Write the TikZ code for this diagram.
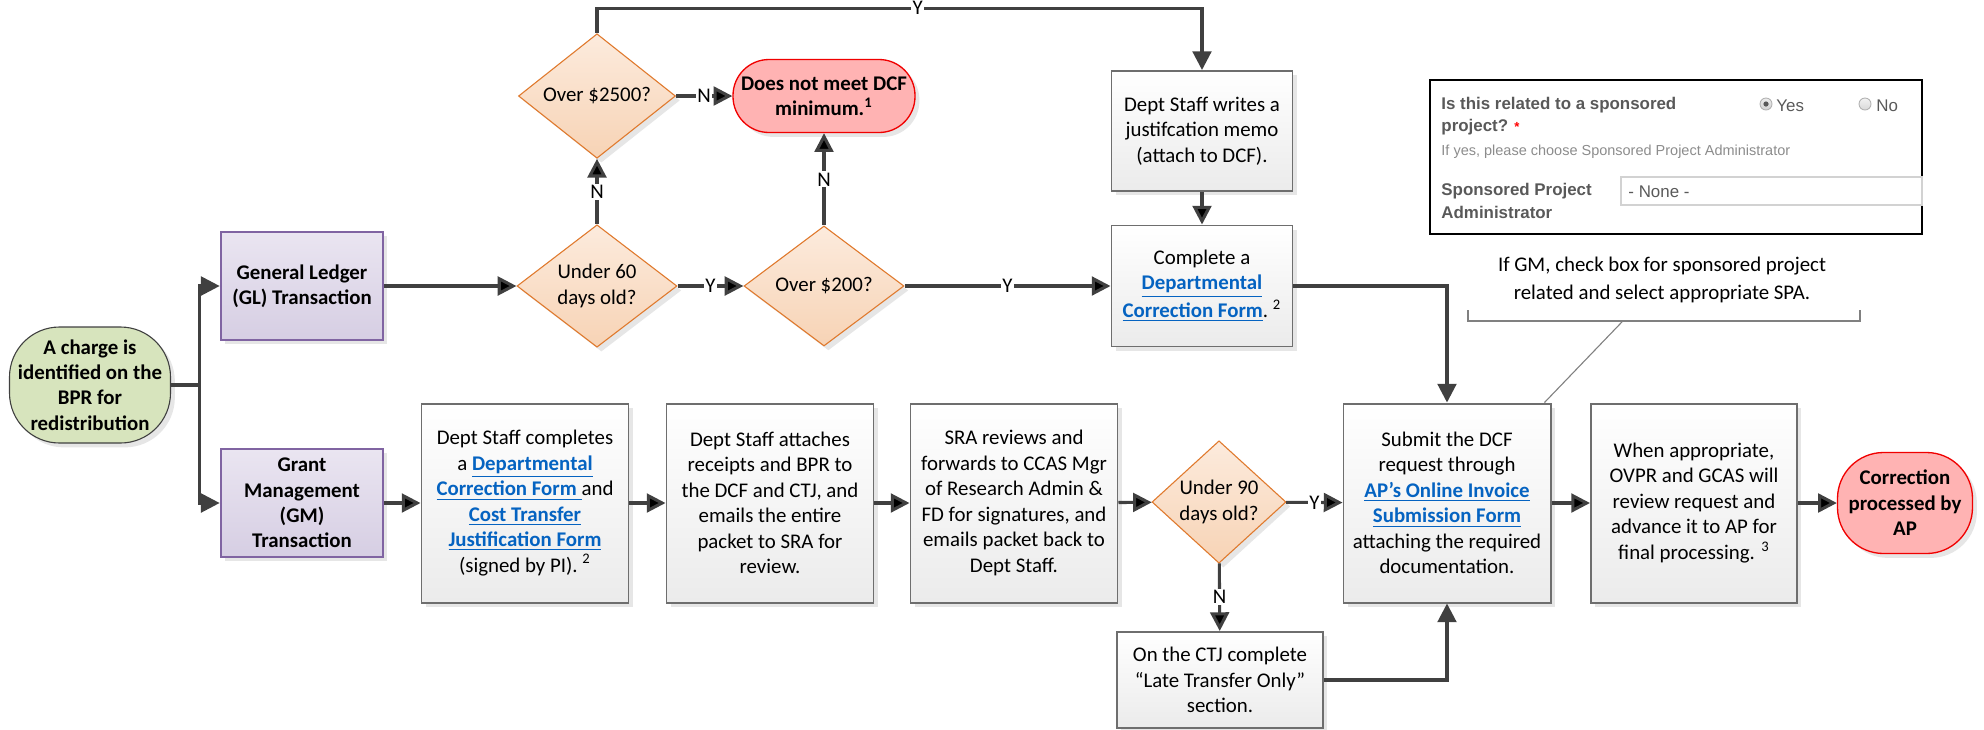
\documentclass[tikz,border=0pt]{standalone}
\usepackage{fontspec}
\setmainfont{Carlito}
\newfontfamily\formfont{Liberation Sans}
\usetikzlibrary{shapes.geometric, arrows.meta, shadows, positioning}

\definecolor{flowgray}{HTML}{404040}
\definecolor{boxgray}{HTML}{6E6E6E}
\definecolor{procbot}{HTML}{EBEBEB}
\definecolor{txnline}{HTML}{8064A2}
\definecolor{txntop}{HTML}{EAE5F1}
\definecolor{txnbot}{HTML}{D6CEE3}
\definecolor{decline}{HTML}{E07A2E}
\definecolor{dectop}{HTML}{FCEBDD}
\definecolor{decbot}{HTML}{F7D3B5}
\definecolor{termfill}{HTML}{FFB3B3}
\definecolor{termline}{HTML}{F00000}
\definecolor{startfill}{HTML}{D7E4BD}
\definecolor{linkblue}{HTML}{0563C1}
\definecolor{formtext}{HTML}{595959}
\definecolor{formhint}{HTML}{8C8C8C}

\newlength\unitpx
\setlength\unitpx{0.016cm}
\newcommand\boxfont{\fontsize{9.5}{11.6}\selectfont}
\newcommand\lnk[1]{\textcolor{linkblue}{\bfseries\underline{#1}}}

\tikzset{
  proc/.style={rectangle, draw=boxgray, line width=0.9pt, top color=white, bottom color=procbot,
    drop shadow={shadow xshift=2pt, shadow yshift=-2pt, opacity=0.2},
    align=center, inner sep=1pt, font=\boxfont, minimum width=207\unitpx, minimum height=199\unitpx},
  txn/.style={rectangle, draw=txnline, line width=1.2pt, top color=txntop, bottom color=txnbot,
    drop shadow={shadow xshift=2pt, shadow yshift=-2pt, opacity=0.2},
    align=center, inner sep=1pt, font=\boxfont\bfseries, minimum width=162\unitpx, minimum height=108\unitpx},
  decision/.style={diamond, draw=decline, line width=0.5pt, top color=dectop, bottom color=decbot,
    drop shadow={shadow xshift=2pt, shadow yshift=-2pt, opacity=0.2},
    align=center, inner sep=0pt, font=\boxfont, minimum width=160\unitpx, minimum height=120\unitpx},
  terminal/.style={rectangle, draw=termline, line width=0.6pt, fill=termfill,
    drop shadow={shadow xshift=2pt, shadow yshift=-2pt, opacity=0.2},
    align=center, inner sep=1pt, font=\boxfont\bfseries},
  startbox/.style={rectangle, draw=flowgray, line width=0.5pt, fill=startfill, rounded corners=50\unitpx,
    drop shadow={shadow xshift=2pt, shadow yshift=-2pt, opacity=0.2},
    align=center, inner sep=1pt, font=\boxfont\bfseries, minimum width=161\unitpx, minimum height=116\unitpx},
  flow/.style={draw=flowgray, line width=1.4pt, -{Triangle[length=0.3cm, width=0.3cm]}},
  yn/.style={fill=white, inner sep=0.6pt, font=\boxfont},
  callout/.style={draw=gray, line width=0.5pt},
  formlbl/.style={inner sep=0pt, anchor=west, text=formtext, font=\formfont\bfseries\fontsize{7.7}{9}\selectfont},
  formval/.style={inner sep=0pt, anchor=west, text=formtext, font=\formfont\fontsize{7.7}{9}\selectfont},
  formhint/.style={inner sep=0pt, anchor=west, text=formhint, font=\formfont\fontsize{6.6}{8}\selectfont}
}

\begin{document}
\begin{tikzpicture}[x=0.016cm, y=-0.016cm]
\useasboundingbox (0,0) rectangle (1984,729);
\node (start) [startbox] at (90,385) {A charge is\\identified on the\\BPR for\\redistribution};
\node (gl) [txn] at (302,286) {General Ledger\\(GL) Transaction};
\node (gm) [txn] at (302,503) {Grant\\Management\\(GM)\\Transaction};
%General ledger branch:
\node (u60) [decision] at (597,286) {Under 60\\days old?};
\node (o2500) [decision, minimum width=157\unitpx, minimum height=118\unitpx] at (597,96) {Over \$2500?};
\node (o200) [decision] at (824,286) {Over \$200?};
\node (dnm) [terminal, rounded corners=36\unitpx, minimum width=182\unitpx, minimum height=73\unitpx] at (824,96) {Does not meet DCF\\minimum.\textsuperscript{1}};
\node (dw) [proc, minimum width=181\unitpx, minimum height=120\unitpx] at (1202,131) {Dept Staff writes a\\justifcation memo\\(attach to DCF).};
\node (cdcf) [proc, minimum width=181\unitpx, minimum height=121\unitpx] at (1202,286) {Complete a\\\lnk{Departmental}\\\lnk{Correction Form}.\ \textsuperscript{2}};
%Grant management branch:
\node (dsc) [proc] at (525,503) {Dept Staff completes\\a \lnk{Departmental}\\\lnk{Correction Form~}and\\\lnk{Cost Transfer}\\\lnk{Justification Form}\\(signed by PI). \textsuperscript{2}};
\node (dsa) [proc] at (770,503) {Dept Staff attaches\\receipts and BPR to\\the DCF and CTJ, and\\emails the entire\\packet to SRA for\\review.};
\node (sra) [proc] at (1014,503) {SRA reviews and\\forwards to CCAS Mgr\\of Research Admin \&\\FD for signatures, and\\emails packet back to\\Dept Staff.};
\node (u90) [decision, minimum width=134\unitpx] at (1219,502) {Under 90\\days old?};
\node (late) [proc, minimum width=206\unitpx, minimum height=96\unitpx] at (1220,680) {On the CTJ complete\\“Late Transfer Only”\\section.};
\node (submit) [proc] at (1447,503) {Submit the DCF\\request through\\\lnk{AP’s Online Invoice}\\\lnk{Submission Form}\\attaching the required\\documentation.};
\node (ovpr) [proc, minimum width=206\unitpx] at (1694,503) {When appropriate,\\OVPR and GCAS will\\review request and\\advance it to AP for\\final processing. \textsuperscript{3}};
\node (ap) [terminal, rounded corners=46\unitpx, minimum width=135\unitpx, minimum height=101\unitpx] at (1905,503) {Correction\\processed by\\AP};
%Connectors:
\draw [draw=flowgray, line width=1.4pt] (start.east) -- ++(28,0) coordinate (split);
\draw [flow] (split) |- (gl);
\draw [flow] (split) |- (gm);
\path [flow]
(gl) edge (u60)
(u60) edge node[yn]{Y} (o200)
(u60) edge node[yn]{N} (o2500)
(o2500) edge node[yn]{N} (dnm)
(o200) edge node[yn]{N} (dnm)
(o200) edge node[yn]{Y} (cdcf)
(dw) edge (cdcf)
(gm) edge (dsc)
(dsc) edge (dsa)
(dsa) edge (sra)
(sra) edge (u90)
(u90) edge node[yn]{Y} (submit)
(u90) edge node[yn]{N} (late)
(submit) edge (ovpr)
(ovpr) edge (ap)
;
\draw [flow] (o2500.north) -- ++(0,-25) -| node[yn, pos=0.265]{Y} (dw.north);
\draw [flow] (cdcf.east) -| (submit.north);
\draw [flow] (late.east) -| (submit.south);
%Form screenshot:
\draw [black, line width=0.6pt] (1430,80) rectangle (1922,234);
\node (q1) [formlbl] at (1441,105) {Is this related to a sponsored};
\node (q2) [formlbl] at (1441,127) {project? \textcolor{red}{\fontsize{6}{6}\selectfont*}};
\draw [gray!60, top color=gray!15, bottom color=gray!35] (1766,104) circle [radius=6\unitpx];
\fill [formtext] (1766,104) circle [radius=2.6\unitpx];
\node (yes) [formval] at (1776,106) {Yes};
\draw [gray!60, top color=gray!10, bottom color=gray!30] (1865,104) circle [radius=6\unitpx];
\node (no) [formval] at (1876,106) {No};
\node (hint) [formhint] at (1441,152) {If yes, please choose Sponsored Project Administrator};
\node (spa1) [formlbl] at (1441,191) {Sponsored Project};
\node (spa2) [formlbl] at (1441,212) {Administrator};
\draw [gray!35, line width=0.8pt] (1621,177) rectangle (1922,205);
\node (none) [formval] at (1628,192) {- None -};
%Callout:
\node (capt) [font=\fontsize{9.5}{12.5}\selectfont, align=center, inner sep=0pt] at (1662,280) {If GM, check box for sponsored project\\related and select appropriate SPA.};
\draw [callout] (1468,310) -- (1468,321) -- coordinate[pos=0.395] (brk) (1860,321) -- (1860,310);
\draw [callout] (brk) -- ([xshift=-7\unitpx]submit.north east);
\end{tikzpicture}
\end{document}
